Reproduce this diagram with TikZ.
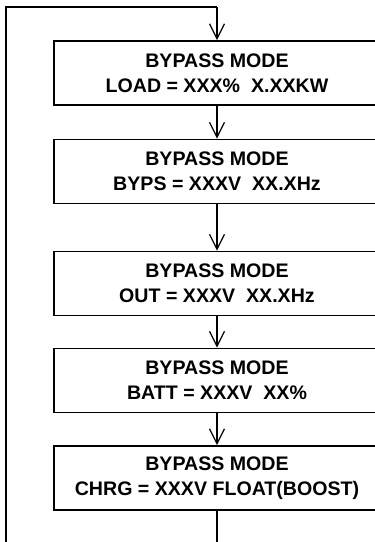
\documentclass[tikz,border=0pt]{standalone}
\usepackage{fontspec}
\setmainfont{Liberation Sans}
\usetikzlibrary{arrows.meta}
\begin{document}
\begin{tikzpicture}[x=1pt,y=-1pt,
  modebox/.style={draw,line width=1.8pt,minimum width=326pt,minimum height=64pt,
    align=center,font=\fontsize{19.6}{25}\selectfont\bfseries,inner sep=0pt},
  flow/.style={line width=1.4pt,-{Straight Barb[length=15pt,width=15pt,line width=1.2pt]}},
  plain/.style={line width=1.4pt}]
\useasboundingbox (0,0) rectangle (375,542);
\node[modebox] (b1) at (217,73) {BYPASS MODE\\LOAD = XXX\%\ \ X.XXKW};
\node[modebox] (b2) at (217,171.5) {BYPASS MODE\\BYPS = XXXV\ \ XX.XHz};
\node[modebox] (b3) at (217,283.5) {BYPASS MODE\\OUT = XXXV\ \ XX.XHz};
\node[modebox] (b4) at (217,380.5) {BYPASS MODE\\BATT = XXXV\ \ XX\%};
\node[modebox] (b5) at (217,478) {BYPASS MODE\\CHRG = XXXV FLOAT(BOOST)};
\coordinate (top) at (217,7);
\coordinate (tl) at (6,7);
\coordinate (bl) at (6,542);
\coordinate (bot) at (217,542);
\draw[flow] (b1.south) -- (b2.north);
\draw[flow] (b2.south) -- (b3.north);
\draw[flow] (b3.south) -- (b4.north);
\draw[flow] (b4.south) -- (b5.north);
\draw[plain] (b5.south) -- (bot);
\draw[line width=2.2pt] (bl) -- (tl) -- (top);
\draw[flow] (top) -- (b1.north);
\end{tikzpicture}
\end{document}
